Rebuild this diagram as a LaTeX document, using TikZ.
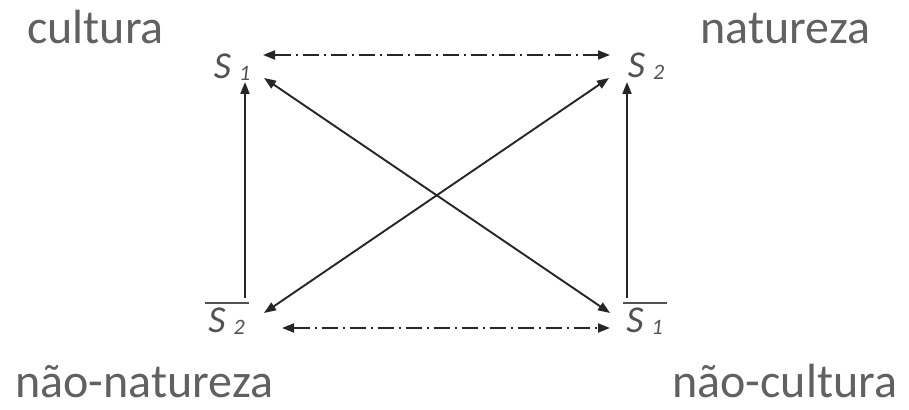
\documentclass[tikz,border=0pt]{standalone}
\usepackage{fontspec}
\setmainfont{Carlito}
\usepackage{tikz}
\usetikzlibrary{arrows.meta}

\newcommand{\sq}[1]{\textit{S}\hspace{4pt}\raisebox{-1pt}{\fontsize{11}{11}\selectfont\textit{#1}}}
\newcommand{\nsq}[1]{\vbox{\hrule height 0.9pt\kern 2pt\hbox{\kern1.5pt\sq{#1}\kern2pt}}}

\begin{document}
\begin{tikzpicture}[
  x=0.5pt, y=-0.5pt,
  every node/.style={inner sep=0pt},
  term/.style={font=\fontsize{24}{28}\selectfont, text=black!62, anchor=base west},
  seme/.style={font=\fontsize{19}{21}\selectfont, text=black!68},
  arr/.style={-{Triangle[length=6pt, width=4.5pt]}, line width=0.95pt, draw=black!85},
  both/.style={{Triangle[length=6pt, width=4.5pt]}-{Triangle[length=6pt, width=4.5pt]}, line width=0.95pt, draw=black!85},
  dd/.style={both, dash pattern=on 8pt off 2.5pt on 1pt off 2.5pt},
]
  \useasboundingbox (0,0) rectangle (909,410);

  % the four terms
  \node[term] (cult)  at (27,44)  {cultura};
  \node[term] (nat)   at (700,44) {natureza};
  \node[term] (nnat)  at (15,398) {não-natureza};
  \node[term] (ncult) at (672,398) {não-cultura};

  % the semes
  \node[seme] (s1)  at (232,67)  {\sq{1}};
  \node[seme] (s2)  at (646,66)  {\sq{2}};
  \node[seme] (ns2) at (227,318) {\nsq{2}};
  \node[seme] (ns1) at (645,318) {\nsq{1}};

  % contrariety
  \draw[dd] ([shift={(31,-12)}]s1.center) -- ([shift={(-36,-11)}]s2.center);
  \draw[dd] ([shift={(55,10)}]ns2.center) -- ([shift={(-35,10)}]ns1.center);

  % implication
  \draw[arr] ([shift={(18,-20)}]ns2.center) -- ([shift={(13,15)}]s1.center);
  \draw[arr] ([shift={(-18,-20)}]ns1.center) -- ([shift={(-19,16)}]s2.center);

  % contradiction
  \draw[both] ([shift={(32,11)}]s1.center) -- ([shift={(-35,-5)}]ns1.center);
  \draw[both] ([shift={(37,-5)}]ns2.center) -- ([shift={(-37,12)}]s2.center);
\end{tikzpicture}
\end{document}
